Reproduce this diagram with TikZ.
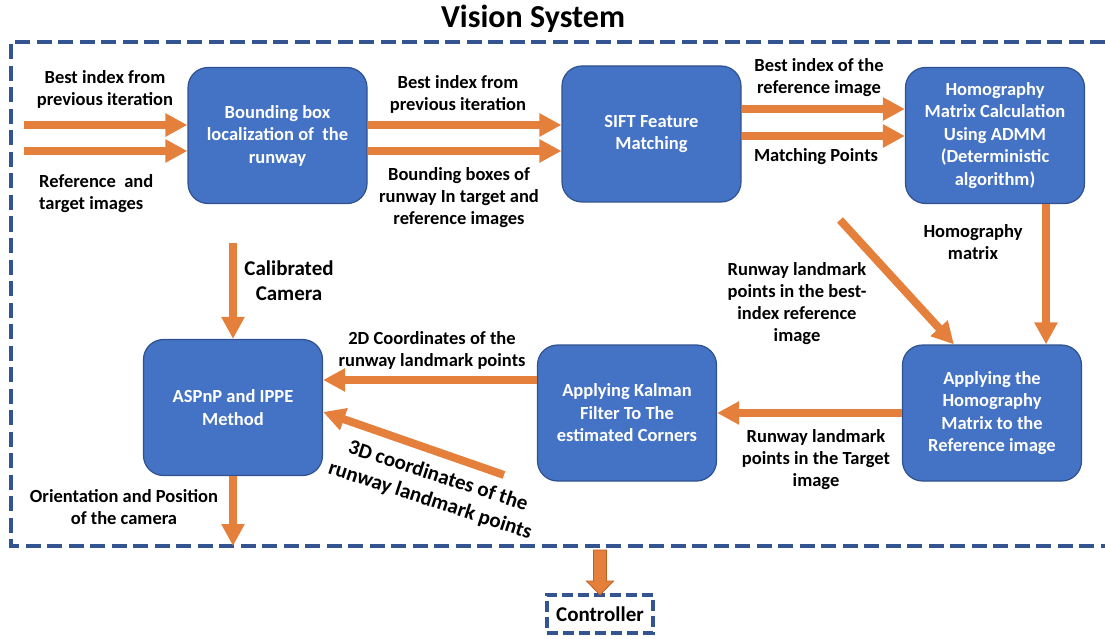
\documentclass[tikz,border=0pt]{standalone}
\usepackage{fontspec}
\setmainfont{Carlito}
\usetikzlibrary{arrows.meta,calc}
\definecolor{boxblue}{RGB}{68,114,196}
\definecolor{boxedge}{RGB}{47,82,143}
\definecolor{dashblue}{RGB}{52,84,145}
\definecolor{arrorange}{RGB}{229,128,60}
\definecolor{arredge}{RGB}{190,95,35}
\begin{document}
\begin{tikzpicture}[x=1pt,y=-1pt,
  block/.style={draw=boxedge, line width=1.2pt, fill=boxblue, rounded corners=20pt,
    minimum width=179pt, minimum height=136pt, text=white,
    font=\fontsize{18.5}{22.5}\selectfont\bfseries, align=center, inner sep=0pt},
  lbl/.style={font=\fontsize{18.5}{22}\selectfont\bfseries, align=center, inner sep=0pt},
  arr/.style={draw=arrorange, line width=8pt, -{Triangle[length=22pt,width=22pt]}},
  framestyle/.style={draw=dashblue, line width=4pt, dash pattern=on 15pt off 6.5pt},
]
\useasboundingbox (0,0) rectangle (1105,639);
\clip (0,0) rectangle (1105,639);

% title and frame (open on the right, it runs past the picture edge)
\node[font=\fontsize{32}{36}\selectfont\bfseries, anchor=base, inner sep=0pt] (title) at (533,28) {Vision System};
\coordinate (ftr) at (1105,42);
\coordinate (ftl) at (11,42);
\coordinate (fbl) at (11,546);
\coordinate (fbr) at (1105,546);
\draw[framestyle] (ftr) -- (ftl) -- (fbl) -- (fbr);

% blocks
\node[block] (b1) at (277.5,135.5) {Bounding box\\localization of\ \ the\\runway};
\node[block] (sift) at (651.5,134) {SIFT Feature\\Matching};
\node[block] (homog) at (995,135.5) {Homography\\Matrix Calculation\\Using ADMM\\(Deterministic\\algorithm)};
\node[block] (apply) at (992,413) {Applying the\\Homography\\Matrix to the\\Reference image};
\node[block] (kalman) at (627,413) {Applying Kalman\\Filter To The\\estimated Corners};
\node[block] (aspnp) at (233,407.5) {ASPnP and IPPE\\Method};

% controller
\node[draw=dashblue, line width=4pt, dash pattern=on 11pt off 5pt, fill=white,
  minimum width=106pt, minimum height=38pt, inner sep=0pt, outer sep=0pt,
  font=\fontsize{21}{24}\selectfont\bfseries] (ctrl) at (600,614) {Controller};

% free ends
\coordinate (i1) at (24,125);
\coordinate (i2) at (24,151);
\coordinate (s1) at (0,109);
\coordinate (s2) at (0,136);
\coordinate (hd) at (1046,0);
\coordinate (dg) at (840,220);
\coordinate (k2) at (0,380);
\coordinate (c3d) at (504,475);
\coordinate (cal) at (233,243);

% arrows
\draw[arr] (i1) -- (i1 -| b1.west);
\draw[arr] (i2) -- (i2 -| b1.west);
\draw[arr] (b1.east |- i1) -- (sift.west |- i1);
\draw[arr] (b1.east |- i2) -- (sift.west |- i2);
\draw[arr] (sift.east |- s1) -- (homog.west |- s1);
\draw[arr] (sift.east |- s2) -- (homog.west |- s2);
\draw[arr] (hd |- homog.south) -- (hd |- apply.north);
\draw[arr] (dg) -- ($(apply.north west)+(52,0)$);
\draw[arr] (apply.west) -- (kalman.east);
\draw[arr] (kalman.west |- k2) -- (aspnp.east |- k2);
\draw[arr] (c3d) -- ($(aspnp.east)+(0,4.5)$);
\draw[arr] (cal) -- (aspnp.north);
\draw[arr] (aspnp.south) -- (aspnp.south |- fbl);

% block arrow to controller
\filldraw[fill=arrorange, draw=arredge, line width=0.8pt]
  (ctrl.north) -- ++(13.5,-14) -- ++(-7,0) -- ++(0,-31) -- ++(-13,0) -- ++(0,31) -- ++(-7,0) -- cycle;

% labels
\node[lbl] (l1) at (105,89) {Best index from\\previous iteration};
\node[lbl, align=left, anchor=west] (l2) at (39,194) {Reference\ \ and\\target images};
\node[lbl] (l3) at (458,94) {Best index from\\previous iteration};
\node[lbl] (l4) at (459,198) {Bounding boxes of\\runway In target and\\reference images};
\node[lbl] (l5) at (819,78) {Best index of the\\reference image};
\node[lbl] (l6) at (816,157) {Matching Points};
\node[lbl] (l7) at (973,242) {Homography\\matrix};
\node[lbl] (l8) at (797,304) {Runway landmark\\points in the best-\\index reference\\image};
\node[lbl] (l9) at (432,350) {2D Coordinates of the\\runway landmark points};
\node[lbl] (l10) at (816,460) {Runway landmark\\points in the Target\\image};
\node[lbl] (l11) at (124,507) {Orientation and Position\\of the camera};
\node[lbl, font=\fontsize{21}{25}\selectfont\bfseries] (l12) at (289,281) {Calibrated\\Camera};
\node[lbl, font=\fontsize{21}{25.5}\selectfont\bfseries, rotate=-18] (l13) at (434,488.5) {3D coordinates of the\\runway landmark points};
\end{tikzpicture}
\end{document}
